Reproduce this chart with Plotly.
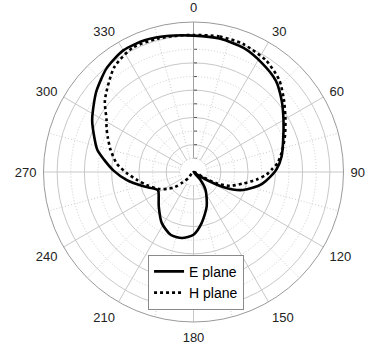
import plotly.graph_objects as go

# ---------------- data (dB) ----------------
theta_e = [0, 11, 22, 32, 42, 51, 60, 70, 80, 88, 94, 100, 105, 110, 114, 117, 121, 125, 130,
           139, 146, 159, 171, 180, 190, 200, 212, 225, 241, 244, 254, 263, 271, 278, 283,
           291, 297, 305, 310, 320, 330, 340, 350, 360]
r_e = [0.0, -0.15, -0.95, -2.8, -4.9, -8.4, -11.9, -15.0, -17.2, -19.5, -22.0, -24.6, -27.6,
       -30.7, -34.2, -37.9, -44.3, -47.8, -50.0,
       -46.1, -42.1, -36.5, -31.0, -27.0, -25.4, -25.5, -28.0, -32.0, -35.3, -35.2, -30.9,
       -25.4, -20.7, -16.8, -13.8, -10.8, -8.3, -5.5, -3.6, -0.4, 1.5, 1.5, 0.7, 0.0]

theta_h = [0, 11, 21, 33, 43, 51, 59, 68, 76, 84, 88, 92, 97, 103, 111, 116, 118, 122,
           220, 226, 231, 236, 243, 254, 262, 269, 276, 285, 292, 297, 301, 309, 323, 334,
           345, 352, 360]
r_h = [0.26, 0.58, 0.36, -1.2, -3.9, -7.4, -10.7, -13.8, -16.4, -19.0, -21.2, -23.2, -26.8,
       -31.3, -35.8, -40.6, -45.9, -50.0,
       -47.1, -44.5, -41.2, -39.1, -36.2, -32.3, -29.1, -25.6, -21.8, -18.5, -16.1, -14.2,
       -12.8, -8.2, -1.8, 0.73, 0.62, 0.36, 0.26]

series_names = ["E plane", "H plane"]

# axis / grid values
r_min, r_max = -50, 5
major_r = [-40, -30, -20, -10, 0]
minor_r = [-45, -35, -25, -15, -5]
hole_level = -45
major_theta = list(range(0, 360, 30))
minor_theta = list(range(15, 360, 30))
tick_labels = [str(t) for t in major_theta]
ring_theta = list(range(0, 361, 3))

FONT = "Liberation Sans, Arial, sans-serif"

fig = go.Figure()

# placeholder so the base (major-grid) polar is drawn
fig.add_trace(go.Scatterpolar(r=[r_min], theta=[0], mode="lines", showlegend=False,
                              hoverinfo="skip", subplot="polar"))
# blank centre disk (covers grid inside the innermost dotted ring)
fig.add_trace(go.Scatterpolar(r=[hole_level] * len(ring_theta), theta=ring_theta, mode="lines",
                              fill="toself", fillcolor="white",
                              line=dict(color="#c4c4c4", width=1, dash="1px,2px"),
                              showlegend=False, hoverinfo="skip", subplot="polar2"))
fig.add_trace(go.Scatterpolar(r=r_e, theta=theta_e, mode="lines", name=series_names[0],
                              line=dict(color="black", width=2.6, shape="spline", smoothing=0.7),
                              subplot="polar2"))
fig.add_trace(go.Scatterpolar(r=r_h, theta=theta_h, mode="lines", name=series_names[1],
                              line=dict(color="black", width=2.6, dash="dot", shape="spline",
                                        smoothing=0.7),
                              subplot="polar2"))

dom = dict(x=[0, 1], y=[0, 1])
fig.update_layout(
    width=368, height=344,
    margin=dict(l=43, r=24, t=22, b=22),
    paper_bgcolor="white",
    font=dict(family=FONT, size=13, color="#222"),
    polar=dict(
        domain=dom, bgcolor="white",
        radialaxis=dict(range=[r_min, r_max], tickvals=major_r, showticklabels=False,
                        ticks="outside", ticklen=3, tickcolor="#555", tickwidth=1,
                        showline=True, linecolor="#a0a0a0", linewidth=1,
                        gridcolor="#c8c8c8", gridwidth=1, angle=90, layer="below traces"),
        angularaxis=dict(rotation=90, direction="clockwise", tickvals=major_theta,
                         ticktext=tick_labels, tickfont=dict(size=13, color="#222", family=FONT),
                         showline=True, linecolor="#9a9a9a", linewidth=1,
                         gridcolor="#c8c8c8", gridwidth=1, ticks="outside", ticklen=4,
                         tickcolor="rgba(0,0,0,0)", layer="below traces"),
    ),
    polar2=dict(
        domain=dom, bgcolor="rgba(0,0,0,0)",
        radialaxis=dict(range=[r_min, r_max], tickvals=minor_r, showticklabels=False,
                        ticks="outside", ticklen=3, tickcolor="#555", tickwidth=1,
                        showline=False, gridcolor="#cccccc", gridwidth=1, griddash="1px,2px",
                        angle=90, layer="below traces"),
        angularaxis=dict(rotation=90, direction="clockwise", tickvals=minor_theta,
                         showticklabels=False, showline=False, gridcolor="#cccccc",
                         gridwidth=1, griddash="1px,2px", ticks="", layer="below traces"),
    ),
    legend=dict(x=0.349, y=0.224, xanchor="left", yanchor="top", bgcolor="white",
                bordercolor="#8a8a8a", borderwidth=1, font=dict(size=14, color="black", family=FONT),
                tracegroupgap=0, itemwidth=30),
    showlegend=True,
)

fig.write_html("out.html")
